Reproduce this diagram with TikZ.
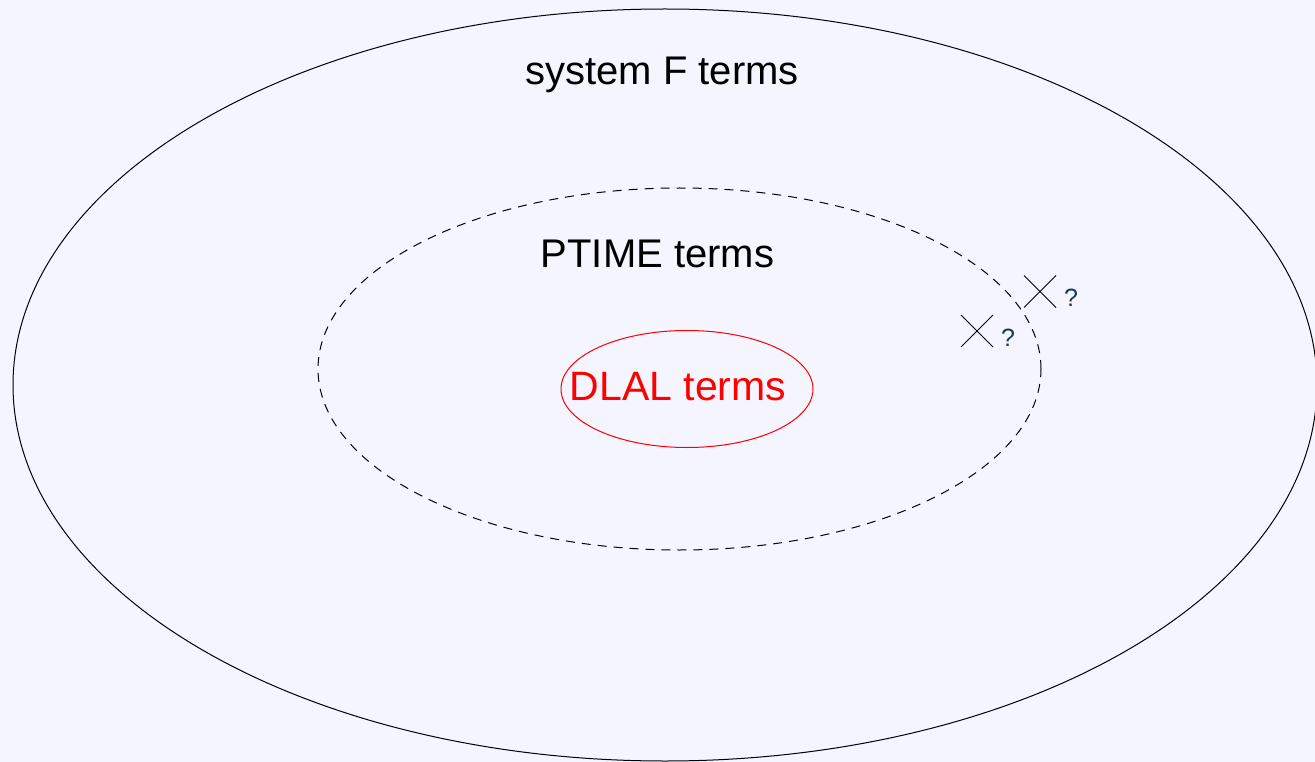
\documentclass[tikz,border=0pt]{standalone}
\usepackage{fontspec}
\setmainfont{Liberation Sans}
\usetikzlibrary{shapes.geometric,shapes.misc}
\definecolor{bgc}{HTML}{F4F5FE}
\definecolor{qcol}{HTML}{18375A}
\begin{document}
\begin{tikzpicture}[x=1pt,y=-1pt,
  bigtext/.style={font=\fontsize{40}{48}\selectfont, anchor=base, inner sep=0pt},
  qtext/.style={font=\fontsize{25}{30}\selectfont, anchor=base, inner sep=0pt, text=qcol},
  region/.style={ellipse, inner sep=0pt, outer sep=0pt, line width=1pt},
  xmark/.style={draw, cross out, minimum size=31pt, inner sep=0pt, line width=1pt}]
\fill[bgc] (0,0) rectangle (1315,762);
\useasboundingbox (0,0) rectangle (1315,762);
\node[region, draw=black, minimum width=1304pt, minimum height=752pt] (sysF) at (665,385) {};
\node[region, draw=black, dash pattern=on 9pt off 7pt, minimum width=723pt, minimum height=362pt] (ptime) at (679.5,369) {};
\node[region, draw=red, minimum width=252pt, minimum height=117pt] (dlal) at (687,389) {};
\node[bigtext] (tsysF) at (662,85) {system F terms};
\node[bigtext] (tptime) at (657.5,268) {PTIME terms};
\node[bigtext, text=red, font=\fontsize{41}{49}\selectfont] (tdlal) at (678,400) {DLAL terms};
\node[xmark] (x1) at (1040,291.5) {};
\node[xmark] (x2) at (977,331) {};
\node[qtext] (q1) at (1071,306.5) {?};
\node[qtext] (q2) at (1008,346) {?};
\end{tikzpicture}
\end{document}
